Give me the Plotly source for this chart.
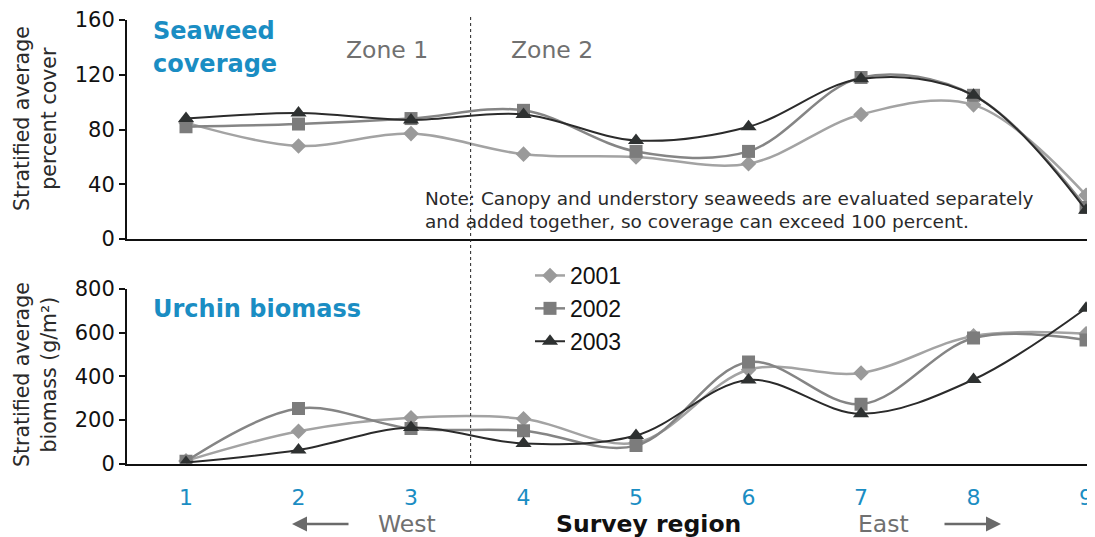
import plotly.graph_objects as go

regions = [1, 2, 3, 4, 5, 6, 7, 8, 9]
years = ["2001", "2002", "2003"]

seaweed_2001 = [85, 68, 77, 62, 60, 55, 91, 98, 32]
seaweed_2002 = [82, 84, 88, 94, 64, 64, 118, 105, 23]
seaweed_2003 = [88, 92, 87, 91, 72, 82, 117, 105, 21]

urchin_2001 = [12, 148, 210, 205, 95, 430, 415, 585, 595]
urchin_2002 = [10, 252, 160, 150, 82, 465, 272, 575, 566]
urchin_2003 = [5, 62, 165, 92, 128, 383, 228, 385, 712]

# page body has an 8px margin; work in reference pixels and shift
OFF = 8
W, H = 1095 - OFF, 537 - OFF
L = 127 - OFF
R = W - (1091 - OFF)
PW = W - L - R

line_colors = ["#a3a3a3", "#858585", "#2b2b2b"]
marker_colors = ["#9a9a9a", "#7c7c7c", "#2e3131"]
symbols = ["diamond", "square", "triangle-up"]
msizes = [12, 13, 14]
lwidths = [2.5, 2.5, 2.0]
BLUE = "#1a8dc3"


def X(px):
    return (px - OFF - L) / PW


def Y(p):
    return 1 - (p - OFF) / H


fig = go.Figure()
for i, (sw, ur) in enumerate(zip([seaweed_2001, seaweed_2002, seaweed_2003],
                                 [urchin_2001, urchin_2002, urchin_2003])):
    common = dict(mode="lines+markers", line=dict(color=line_colors[i], width=lwidths[i],
                  shape="spline", smoothing=1.0),
                  marker=dict(symbol=symbols[i], size=msizes[i], color=marker_colors[i]))
    fig.add_trace(go.Scatter(x=regions, y=sw, xaxis="x", yaxis="y", showlegend=False,
                             name=years[i], **common))
    fig.add_trace(go.Scatter(x=regions, y=ur, xaxis="x2", yaxis="y2", showlegend=True,
                             name=years[i], **common))

xr = [0.4756, 9.044]
axfont = dict(family="DejaVu Sans", size=21, color="#111111")
fig.update_layout(
    width=W, height=H,
    margin=dict(l=L, r=R, t=0, b=0, autoexpand=False),
    paper_bgcolor="white", plot_bgcolor="white",
    xaxis=dict(domain=[0, 1], range=xr, anchor="y", showticklabels=False, ticks="",
               automargin=False,
               showgrid=False, zeroline=False, showline=True, linecolor="#111", linewidth=2),
    yaxis=dict(domain=[Y(239), Y(20)], range=[0, 160], tickvals=[0, 40, 80, 120, 160],
               ticks="outside", ticklen=6, tickwidth=1.5, tickcolor="#111", automargin=False,
               showgrid=False, zeroline=False, showline=True, linecolor="#111", linewidth=2,
               tickfont=axfont, anchor="x"),
    xaxis2=dict(domain=[0, 1], range=xr, anchor="y2", tickvals=regions, automargin=False,
                ticks="outside", ticklen=13, tickcolor="rgba(0,0,0,0)",
                ticklabeloverflow="allow",
                tickfont=dict(family="DejaVu Sans", size=22, color=BLUE),
                showgrid=False, zeroline=False, showline=True, linecolor="#111", linewidth=2),
    yaxis2=dict(domain=[Y(463.5), Y(289)], range=[0, 800], tickvals=[0, 200, 400, 600, 800],
                ticks="outside", ticklen=6, tickwidth=1.5, tickcolor="#111", automargin=False,
                showgrid=False, zeroline=False, showline=True, linecolor="#111", linewidth=2,
                tickfont=axfont, anchor="x2"),
    legend=dict(x=X(530), y=Y(254), xanchor="left", yanchor="top",
                bgcolor="rgba(0,0,0,0)", font=dict(family="Liberation Sans", size=23, color="#111"),
                tracegroupgap=0),
    showlegend=True,
)

fig.add_shape(type="line", xref="x", yref="paper", x0=3.53, x1=3.53, y0=Y(464), y1=Y(14),
              line=dict(color="#222", width=1, dash="dot"))

ann = []


def A(text, x, y, size, color, bold=False, family="DejaVu Sans", **kw):
    t = f"<b>{text}</b>" if bold else text
    ann.append(dict(text=t, x=X(x), y=Y(y), xref="paper", yref="paper", showarrow=False,
                    font=dict(family=family, size=size, color=color), **kw))


A("Seaweed", 151, 31, 24, BLUE, bold=True, xanchor="left", yanchor="middle")
A("coverage", 151, 64, 24, BLUE, bold=True, xanchor="left", yanchor="middle")
A("Urchin biomass", 151, 309, 24, BLUE, bold=True, xanchor="left", yanchor="middle")
A("Zone 1", 387, 50, 23.5, "#707070", xanchor="center", yanchor="middle")
A("Zone 2", 552, 50, 23.5, "#707070", xanchor="center", yanchor="middle")
A("Note: Canopy and understory seaweeds are evaluated separately", 423, 198, 18.5, "#2a2a2a",
  xanchor="left", yanchor="middle")
A("and added together, so coverage can exceed 100 percent.", 423, 221, 18.5, "#2a2a2a",
  xanchor="left", yanchor="middle")
A("Stratified average<br>percent cover", 35, 119, 20.5, "#2a2a2a", textangle=-90,
  xanchor="center", yanchor="middle")
A("Stratified average<br>biomass (g/m²)", 35, 375, 20.5, "#2a2a2a", textangle=-90,
  xanchor="center", yanchor="middle")
A("Survey region", 648, 524, 23.5, "#111", bold=True, xanchor="center", yanchor="middle")
A("West", 407, 524, 23.5, "#707070", xanchor="center", yanchor="middle")
A("East", 883, 524, 23.5, "#707070", xanchor="center", yanchor="middle")

# arrows
ann.append(dict(x=X(292), y=Y(524), ax=58, ay=0, xref="paper", yref="paper",
                showarrow=True, arrowhead=2, arrowsize=1.2,
                arrowwidth=2.5, arrowcolor="#6a6a6a", text=""))
ann.append(dict(x=X(1001), y=Y(524), ax=-58, ay=0, xref="paper", yref="paper",
                showarrow=True, arrowhead=2, arrowsize=1.2,
                arrowwidth=2.5, arrowcolor="#6a6a6a", text=""))

fig.update_layout(annotations=ann)
fig.write_html("out.html")
